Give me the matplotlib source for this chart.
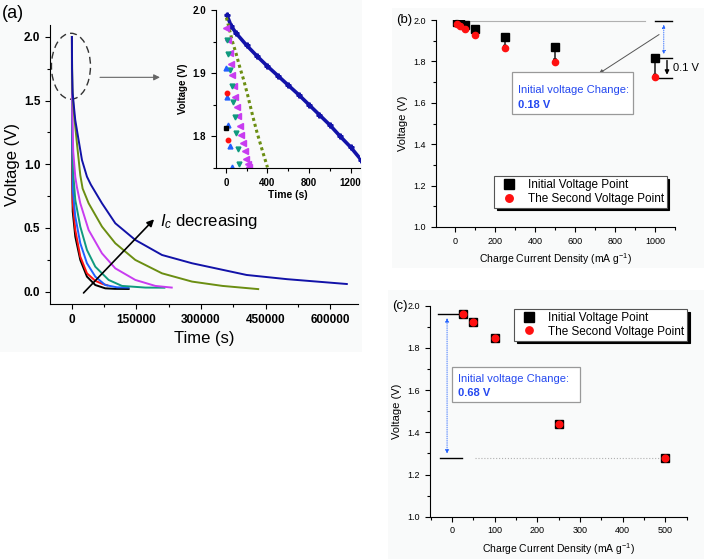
import matplotlib
matplotlib.use('Agg')
import matplotlib.pyplot as plt
from matplotlib.patches import Ellipse, Rectangle
from matplotlib.ticker import MultipleLocator

plt.rcParams['font.family'] = ['Liberation Sans', 'DejaVu Sans']
plt.rcParams['mathtext.fontset'] = 'custom'
plt.rcParams['mathtext.rm'] = 'Liberation Sans'
plt.rcParams['mathtext.it'] = 'Liberation Sans:italic'

# ---- panel (a): discharge curves, time (s) vs voltage (V)
navy_t = [0, 300, 1600, 7700, 15500, 23300, 34900, 44000, 69800, 100800, 147300, 209300, 279100, 406000, 500000, 639000]
navy_v = [2.0, 1.75, 1.557, 1.348, 1.19, 1.034, 0.903, 0.84, 0.694, 0.537, 0.406, 0.288, 0.223, 0.131, 0.098, 0.06]
olive_t = [0, 300, 1000, 3900, 11600, 19400, 24800, 38800, 69800, 100800, 147300, 209300, 279100, 350000, 433000]
olive_v = [2.0, 1.8, 1.6, 1.426, 1.165, 0.915, 0.81, 0.694, 0.511, 0.38, 0.249, 0.144, 0.079, 0.045, 0.02]
magenta_t = [0, 200, 800, 3000, 7800, 11600, 19400, 38800, 69800, 100800, 147300, 193800, 232000]
magenta_v = [2.0, 1.7, 1.4, 1.1, 0.9, 0.82, 0.694, 0.484, 0.301, 0.183, 0.092, 0.045, 0.032]
teal_t = [0, 200, 700, 2500, 7800, 19400, 34900, 54300, 85300, 116300, 170600, 215000]
teal_v = [2.0, 1.6, 1.3, 0.95, 0.72, 0.511, 0.327, 0.196, 0.092, 0.045, 0.032, 0.031]
blue_t = [0, 150, 500, 2000, 7800, 19400, 34900, 54300, 77500, 104700, 131800]
blue_v = [2.0, 1.5, 1.15, 0.8, 0.589, 0.38, 0.223, 0.118, 0.052, 0.034, 0.032]
red_t = [0, 100, 400, 1800, 7800, 19400, 34900, 54300, 70000, 82000]
red_v = [2.0, 1.4, 1.0, 0.7, 0.484, 0.275, 0.144, 0.085, 0.062, 0.05]
black_t = [0, 100, 400, 1800, 7800, 19400, 34900, 54300, 77500, 100000, 131800]
black_v = [2.0, 1.3, 0.95, 0.63, 0.432, 0.249, 0.118, 0.052, 0.026, 0.022, 0.021]

# inset: first seconds of each curve
in_navy_t = [10, 50, 100, 200, 300, 400, 500, 600, 700, 800, 900, 1000, 1100, 1200, 1300]
in_navy_v = [1.992, 1.975, 1.963, 1.944, 1.927, 1.911, 1.896, 1.881, 1.866, 1.85, 1.834, 1.818, 1.80, 1.783, 1.763]
in_olive_t = [5, 30, 60, 100, 133, 170, 210, 260, 300, 350, 400]
in_olive_v = [1.988, 1.972, 1.952, 1.93, 1.91, 1.89, 1.865, 1.831, 1.806, 1.778, 1.751]
in_magenta_t = [5, 20, 35, 50, 62, 75, 90, 105, 120, 135, 150, 165, 180, 195, 210, 225]
in_magenta_v = [1.972, 1.952, 1.932, 1.915, 1.897, 1.88, 1.862, 1.847, 1.832, 1.817, 1.803, 1.79, 1.777, 1.765, 1.756, 1.751]
in_teal_t = [10, 25, 40, 55, 70, 85, 100, 115, 130]
in_teal_v = [1.953, 1.93, 1.905, 1.88, 1.855, 1.83, 1.805, 1.78, 1.756]
in_blue_t = [5, 15, 25, 38, 55]
in_blue_v = [1.908, 1.862, 1.818, 1.785, 1.752]
in_red_t = [10, 25]
in_red_v = [1.869, 1.794]
in_black_t = [5]
in_black_v = [1.813]

# ---- panel (b)
b_current = [10, 25, 50, 100, 250, 500, 1000]
b_initial = [1.99, 1.988, 1.976, 1.956, 1.916, 1.87, 1.815]
b_second = [1.983, 1.97, 1.958, 1.929, 1.863, 1.797, 1.723]

# ---- panel (c)
c_current = [25, 50, 100, 250, 500]
c_initial = [1.961, 1.921, 1.847, 1.441, 1.279]
c_second = [1.961, 1.921, 1.847, 1.441, 1.279]

NAVY = '#1212a8'
OLIVE = '#6b8e12'
MAGENTA = '#c83cf0'
TEAL = '#0f9a7e'
BLUE = '#2060ff'
RED = '#ff1010'
TXTBLUE = '#2448f0'

W, H = 704, 559
fig = plt.figure(figsize=(W / 100, H / 100), dpi=100)
fig.patch.set_facecolor('white')


def frac(x0, y0, x1, y1):
    # pixel box (top-left origin) to figure fraction
    return [x0 / W, 1 - y1 / H, (x1 - x0) / W, (y1 - y0) / H]


# very light panel backgrounds
for box in [(0, 0, 362, 352), (392, 8, 704, 268), (388, 290, 704, 559)]:
    fig.patches.append(Rectangle((box[0] / W, 1 - box[3] / H), (box[2] - box[0]) / W,
                                 (box[3] - box[1]) / H, transform=fig.transFigure,
                                 facecolor='#f9fafa', edgecolor='none', zorder=-10))


def style(ax, fs, bold=False):
    for s in ['top', 'right']:
        ax.spines[s].set_visible(False)
    ax.set_facecolor('none')
    ax.tick_params(which='both', direction='out', labelsize=fs, width=0.8)
    ax.tick_params(which='major', length=3.5)
    ax.tick_params(which='minor', length=2)
    if bold:
        for lab in ax.get_xticklabels() + ax.get_yticklabels():
            lab.set_fontweight('bold')


# ================= panel (a)
ax = fig.add_axes(frac(50, 25, 358, 304))
curves = [(black_t, black_v, 'black'), (red_t, red_v, RED), (blue_t, blue_v, BLUE),
          (teal_t, teal_v, TEAL), (magenta_t, magenta_v, MAGENTA),
          (olive_t, olive_v, OLIVE), (navy_t, navy_v, NAVY)]
for t, v, c in curves:
    ax.plot(t, v, color=c, lw=1.4)
ax.set_xlim(-51000, 665000)
ax.set_ylim(-0.097, 2.094)
ax.set_xticks([0, 150000, 300000, 450000, 600000])
ax.xaxis.set_minor_locator(MultipleLocator(75000))
ax.set_yticks([0, 0.5, 1.0, 1.5, 2.0])
ax.yaxis.set_minor_locator(MultipleLocator(0.25))
style(ax, 8.5, bold=True)
ax.set_xlabel('Time (s)', fontsize=12, labelpad=4)
ax.set_ylabel('Voltage (V)', fontsize=12)
ax.yaxis.set_label_coords(-0.098, 0.5)
ax.add_patch(Ellipse((-2300, 1.77), 90700, 0.518, fill=False, ls=(0, (5, 3)),
                     lw=1.0, edgecolor='#333333'))
ax.annotate('', xy=(211000, 1.683), xytext=(58800, 1.683),
            arrowprops=dict(arrowstyle='-|>', color='#666666', lw=0.8, mutation_scale=9))
ax.annotate('', xy=(195400, 0.584), xytext=(22500, -0.026),
            arrowprops=dict(arrowstyle='-|>', color='black', lw=1.2, mutation_scale=10))
ax.text(205000, 0.55, r'$I_c$ decreasing', fontsize=12, va='center', ha='left')
fig.text(2 / W, 1 - 13 / H, '(a)', fontsize=13, va='center', ha='left')

# inset
ai = fig.add_axes(frac(216, 10, 360, 168))
ai.plot(in_navy_t, in_navy_v, color=NAVY, lw=2.6)
ai.plot(in_navy_t, in_navy_v, ls='none', marker='P', ms=3.5, color=NAVY)
ai.plot(in_olive_t, in_olive_v, color=OLIVE, lw=2.2, ls=(0, (1, 1)))
ai.plot(in_magenta_t, in_magenta_v, ls='none', marker='<', ms=4, color=MAGENTA)
ai.plot(in_teal_t, in_teal_v, ls='none', marker='v', ms=3.5, color=TEAL)
ai.plot(in_blue_t, in_blue_v, ls='none', marker='^', ms=3.5, color=BLUE)
ai.plot(in_red_t, in_red_v, ls='none', marker='o', ms=3.2, color=RED)
ai.plot(in_black_t, in_black_v, ls='none', marker='s', ms=3, color='black')
ai.set_xlim(-95, 1290)
ai.set_ylim(1.75, 2.0)
ai.set_xticks([0, 400, 800, 1200])
ai.xaxis.set_minor_locator(MultipleLocator(200))
ai.set_yticks([1.8, 1.9, 2.0])
ai.yaxis.set_minor_locator(MultipleLocator(0.05))
style(ai, 7, bold=True)
ai.set_xlabel('Time (s)', fontsize=7.5, fontweight='bold', labelpad=2)
ai.set_ylabel('Voltage (V)', fontsize=7, fontweight='bold', labelpad=3)

# ================= panel (b)
bx = fig.add_axes(frac(436, 20, 675, 227))
bx.plot([0, 948], [1.997, 1.997], color='#b0b0b0', lw=0.8, zorder=1)
for x, s0, s1 in zip(b_current, b_initial, b_second):
    bx.annotate('', xy=(x, s1 - 0.02), xytext=(x, s0),
                arrowprops=dict(arrowstyle='-|>', color='black', lw=1.0, mutation_scale=5),
                zorder=2)
bx.plot(b_current, b_initial, ls='none', marker='s', ms=5.5, color='black', zorder=3,
        label='Initial Voltage Point')
bx.plot(b_current, b_second, ls='none', marker='o', ms=4.5, color=RED, zorder=4,
        label='The Second Voltage Point')
bx.set_xlim(-95, 1100)
bx.set_ylim(1.0, 2.0)
bx.set_xticks([0, 200, 400, 600, 800, 1000])
bx.xaxis.set_minor_locator(MultipleLocator(100))
bx.set_yticks([1.0, 1.2, 1.4, 1.6, 1.8, 2.0])
bx.yaxis.set_minor_locator(MultipleLocator(0.1))
style(bx, 6.5)
bx.set_xlabel('Charge Current Density (mA g$^{-1}$)', fontsize=7.5, labelpad=4)
bx.set_ylabel('Voltage (V)', fontsize=8, labelpad=4)
leg = bx.legend(loc='lower right', bbox_to_anchor=(0.99, 0.065), fontsize=8.5,
                fancybox=False, framealpha=1, edgecolor='#555555', handletextpad=0.6,
                borderpad=0.25, labelspacing=0.15, markerscale=1.2,
                shadow={'facecolor': 'black', 'edgecolor': 'black', 'alpha': 1})
leg.get_frame().set_linewidth(0.8)
# bracket at right
for y in [1.995, 1.818, 1.721]:
    bx.plot([1000, 1085], [y, y], color='black', lw=1.0, clip_on=False)
bx.annotate('', xy=(1044, 1.822), xytext=(1044, 1.991),
            arrowprops=dict(arrowstyle='<|-|>', color=BLUE, lw=0.6, ls=':', mutation_scale=5),
            annotation_clip=False)
bx.annotate('', xy=(1060, 1.722), xytext=(1060, 1.818),
            arrowprops=dict(arrowstyle='-|>', color='black', lw=1.0, mutation_scale=6),
            annotation_clip=False)
bx.text(1092, 1.768, '0.1 V', fontsize=8, va='center', ha='left', clip_on=False)
bx.annotate('', xy=(708, 1.734), xytext=(1032, 1.937),
            arrowprops=dict(arrowstyle='-|>', color='#555555', lw=0.7, mutation_scale=6))
bx.add_patch(Rectangle((284, 1.546), 604, 0.203, facecolor='white', edgecolor='#999999',
                       lw=0.9, zorder=5))
bx.text(314, 1.663, 'Initial voltage Change:', color=TXTBLUE, fontsize=8, va='center', zorder=6)
bx.text(314, 1.59, '0.18 V', color=TXTBLUE, fontsize=8, fontweight='bold', va='center', zorder=6)
fig.text(396 / W, 1 - 20 / H, '(b)', fontsize=9.5, va='center', ha='left')

# ================= panel (c)
cx = fig.add_axes(frac(430, 305.7, 686.7, 516.7))
cx.plot(c_current, c_initial, ls='none', marker='s', ms=6, color='black', zorder=3,
        label='Initial Voltage Point')
cx.plot(c_current, c_second, ls='none', marker='o', ms=4.8, color=RED, zorder=4,
        label='The Second Voltage Point')
cx.set_xlim(-52, 550)
cx.set_ylim(1.0, 2.0)
cx.set_xticks([0, 100, 200, 300, 400, 500])
cx.xaxis.set_minor_locator(MultipleLocator(50))
cx.set_yticks([1.0, 1.2, 1.4, 1.6, 1.8, 2.0])
cx.yaxis.set_minor_locator(MultipleLocator(0.1))
style(cx, 6.5)
cx.set_xlabel('Charge Current Density (mA g$^{-1}$)', fontsize=7.5, labelpad=4)
cx.set_ylabel('Voltage (V)', fontsize=8, labelpad=4)
leg = cx.legend(loc='upper right', bbox_to_anchor=(1.025, 1.013), fontsize=8.5,
                fancybox=False, framealpha=1, edgecolor='#555555', handletextpad=0.6,
                borderpad=0.25, labelspacing=0.15, markerscale=1.1,
                shadow={'facecolor': 'black', 'edgecolor': 'black', 'alpha': 1})
leg.get_frame().set_linewidth(0.8)
cx.plot([-34, 16], [1.961, 1.961], color='black', lw=1.0, clip_on=False)
cx.plot([-29, 24], [1.277, 1.277], color='black', lw=1.0, clip_on=False)
cx.plot([53, 490], [1.277, 1.277], color='#b0b0b0', lw=0.8, ls=':')
cx.annotate('', xy=(-12, 1.285), xytext=(-12, 1.955),
            arrowprops=dict(arrowstyle='<|-|>', color=BLUE, lw=0.6, ls=':', mutation_scale=6),
            annotation_clip=False)
cx.add_patch(Rectangle((-1.4, 1.542), 300, 0.169, facecolor='white', edgecolor='#999999',
                       lw=0.9, zorder=5))
cx.text(14, 1.651, 'Initial voltage Change:', color=TXTBLUE, fontsize=8, va='center', zorder=6)
cx.text(14, 1.585, '0.68 V', color=TXTBLUE, fontsize=8, fontweight='bold', va='center', zorder=6)
fig.text(392 / W, 1 - 305.7 / H, '(c)', fontsize=9.5, va='center', ha='left')

fig.savefig('out.png', dpi=100, facecolor=fig.get_facecolor())
